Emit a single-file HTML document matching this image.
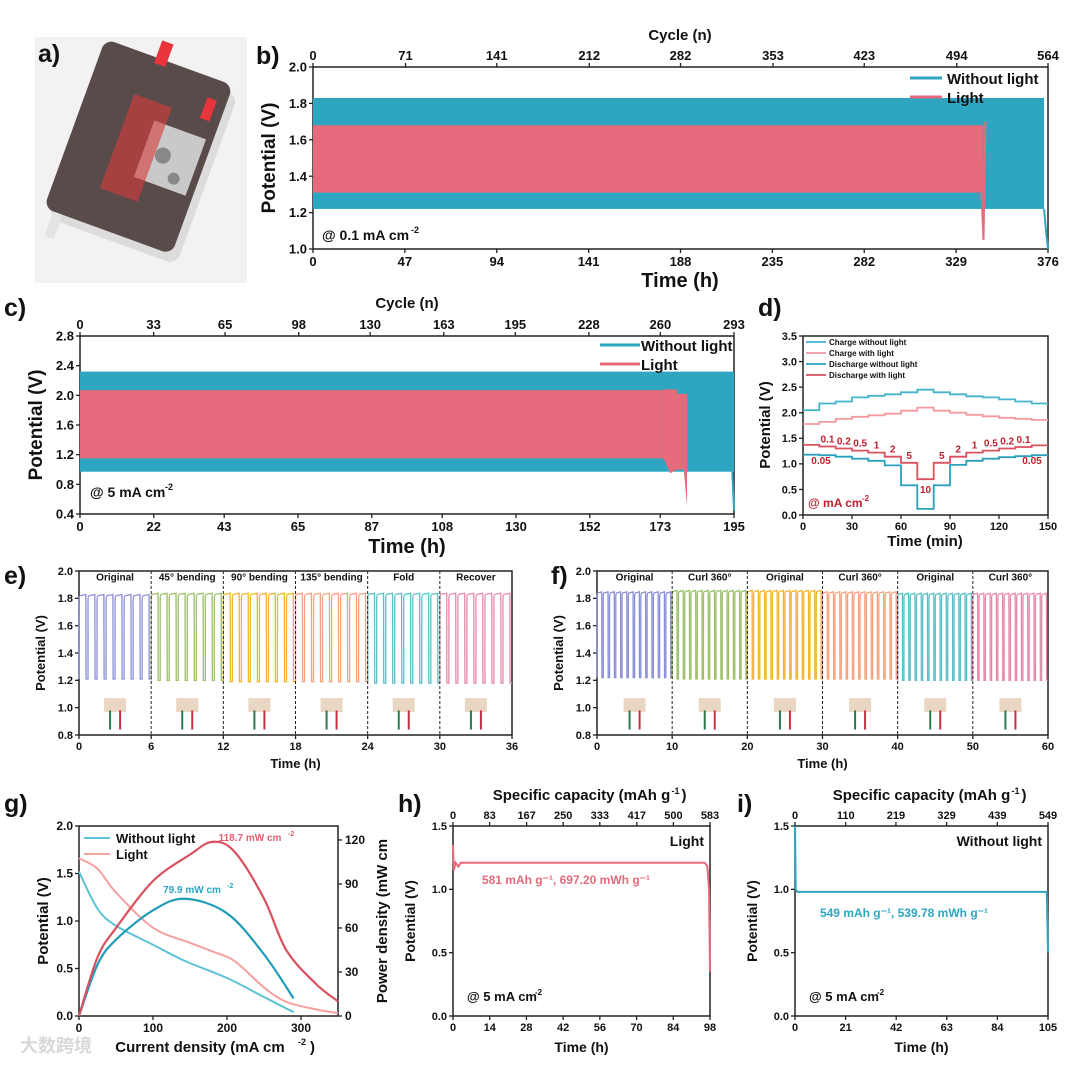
<!DOCTYPE html>
<html><head><meta charset="utf-8"><style>
html,body{margin:0;padding:0;background:#fff;}
svg{display:block;font-family:"Liberation Sans","Noto Sans CJK SC",sans-serif;font-weight:bold;}
</style></head><body>
<svg id="fig" width="1080" height="1073" viewBox="0 0 1080 1073" xmlns="http://www.w3.org/2000/svg">
<defs><clipPath id="clipA"><rect x="35" y="37" width="212" height="246"/></clipPath></defs>
<g clip-path="url(#clipA)">
<rect x="35" y="37" width="212" height="246" fill="#f2f2f2"/>
<g transform="rotate(20 140 160)">
<rect x="74" y="66" width="136" height="180" rx="10" fill="#dcdcdc"/>
<rect x="66" y="58" width="136" height="180" rx="10" fill="#5a4b4b"/>
<rect x="120" y="40" width="12" height="24" fill="#e8343d"/>
<rect x="182" y="78" width="10" height="22" fill="#e8343d"/>
<rect x="76" y="238" width="10" height="26" fill="#e4e4e4"/>
<rect x="140" y="118" width="55" height="60" fill="#c9c9c9"/>
<rect x="112" y="100" width="40" height="100" fill="#d83a3a" opacity="0.6"/>
<circle cx="160" cy="148" r="8" fill="#888"/><circle cx="178" cy="166" r="6" fill="#888"/>
</g>
</g>
<g id="plots"></g>
</svg>
<script>
// ---------- data ----------
const bTopTicks=[0,71,141,212,282,353,423,494,564];
const bBotTicks=[0,47,94,141,188,235,282,329,376];
const bTealBand=[1.22,1.83]; const bTealEnd=374;
const bPinkBand=[1.31,1.68]; const bPinkEnd=343;
const cTopTicks=[0,33,65,98,130,163,195,228,260,293];
const cBotTicks=[0,22,43,65,87,108,130,152,173,195];
const cTealBand=[0.97,2.32]; const cTealEnd=195;
const cPinkBand=[1.15,2.07]; const cPinkEnd=174;
const dSegTimes=[0,10,20,30,40,50,60,70,80,90,100,110,120,130,140,150];
const dCurrents=["0.05","0.1","0.2","0.5","1","2","5","10","5","2","1","0.5","0.2","0.1","0.05"];
const dChargeNo=[2.05,2.18,2.22,2.30,2.33,2.36,2.40,2.45,2.40,2.36,2.32,2.30,2.26,2.22,2.18];
const dChargeL=[1.78,1.82,1.88,1.92,1.95,1.98,2.04,2.10,2.04,2.00,1.96,1.93,1.90,1.88,1.86];
const dDisNo=[1.18,1.17,1.14,1.10,1.06,0.97,0.58,0.12,0.58,0.98,1.06,1.10,1.13,1.15,1.17];
const dDisL=[1.37,1.34,1.30,1.26,1.22,1.14,1.02,0.70,1.02,1.14,1.22,1.26,1.30,1.33,1.36];
const eLabels=["Original","45° bending","90° bending","135° bending","Fold","Recover"];
const eHigh=[1.82,1.83,1.83,1.83,1.83,1.83];
const eLow=[1.21,1.20,1.19,1.19,1.18,1.18];
const eCycles=[8,8,8,8,8,8];
const fLabels=["Original","Curl 360°","Original","Curl 360°","Original","Curl 360°"];
const fHigh=[1.84,1.85,1.85,1.84,1.83,1.83];
const fLow=[1.22,1.21,1.21,1.21,1.20,1.20];
const fCycles=[12,12,12,12,12,12];
const gCurDark=[0,25,50,100,143,200,250,290];
const gVDark=[1.52,1.13,0.95,0.75,0.58,0.40,0.20,0.04];
const gPDark=[0,35,52,72,79.9,70,42,12];
const gCurLight=[0,25,50,100,150,180,210,250,280,320,350];
const gVLight=[1.66,1.55,1.3,0.93,0.77,0.68,0.58,0.3,0.15,0.07,0.03];
const gPLight=[0,40,60,92,110,118.7,112,80,45,22,10];
const hTime=[0,0.3,1,2,3,5,20,50,80,96,97,97.6,98];
const hV=[1.35,1.15,1.21,1.18,1.21,1.21,1.21,1.21,1.21,1.21,1.18,1.0,0.35];
const hTop=[0,83,167,250,333,417,500,583];
const iTime=[0,0.3,1,5,30,60,90,104.5,105];
const iV=[1.5,1.0,0.98,0.98,0.98,0.98,0.98,0.98,0.5];
const iTop=[0,110,219,329,439,549];

// ---------- helpers ----------
const NS="http://www.w3.org/2000/svg";
const root=document.getElementById('plots');
function el(tag,attrs,parent,text){const e=document.createElementNS(NS,tag);for(const k in attrs)e.setAttribute(k,attrs[k]);if(text!==undefined)e.textContent=text;(parent||root).appendChild(e);return e;}
function lin(d0,d1,r0,r1){return v=>r0+(v-d0)/(d1-d0)*(r1-r0);}
function txt(p,x,y,s,size,opt){opt=opt||{};const t=el('text',{x:x,y:y,'font-size':size,'text-anchor':opt.anchor||'middle',fill:opt.fill||'#111'},p,s);if(opt.rot)t.setAttribute('transform','rotate(-90 '+x+' '+y+')');return t;}
function axes(g,c){
 const sx=lin(c.xmin,c.xmax,c.x0,c.x1), sy=lin(c.ymin,c.ymax,c.y1,c.y0);
 el('rect',{x:c.x0,y:c.y0,width:c.x1-c.x0,height:c.y1-c.y0,fill:'none',stroke:'#222','stroke-width':1.5},g);
 const fs=c.fs||12;
 c.xticks.forEach(v=>{const x=sx(v);el('line',{x1:x,x2:x,y1:c.y1,y2:c.y1+4,stroke:'#222','stroke-width':1.3},g);txt(g,x,c.y1+fs+4,String(v),fs);});
 c.yticks.forEach(v=>{const y=sy(v);el('line',{x1:c.x0,x2:c.x0-4,y1:y,y2:y,stroke:'#222','stroke-width':1.3},g);txt(g,c.x0-6,y+fs*0.35,c.yfmt?c.yfmt(v):String(v),fs,{anchor:'end'});});
 if(c.top){const st=lin(c.top[0],c.top[c.top.length-1],c.x0,c.x1);c.top.forEach(v=>{const x=st(v);el('line',{x1:x,x2:x,y1:c.y0,y2:c.y0-4,stroke:'#222','stroke-width':1.3},g);txt(g,x,c.y0-7,String(v),fs);});}
 return {sx,sy};
}
function poly(g,xs,ys,sx,sy,color,w){let d='';xs.forEach((x,i)=>{d+=(i?'L':'M')+sx(x).toFixed(1)+' '+sy(ys[i]).toFixed(1);});return el('path',{d:d,fill:'none',stroke:color,'stroke-width':w||2},g);}
function smooth(g,xs,ys,sx,sy,color,w){const P=xs.map((x,i)=>[sx(x),sy(ys[i])]);let d='M'+P[0][0]+' '+P[0][1];for(let i=0;i<P.length-1;i++){const p0=P[Math.max(0,i-1)],p1=P[i],p2=P[i+1],p3=P[Math.min(P.length-1,i+2)];d+=' C'+(p1[0]+(p2[0]-p0[0])/6)+' '+(p1[1]+(p2[1]-p0[1])/6)+' '+(p2[0]-(p3[0]-p1[0])/6)+' '+(p2[1]-(p3[1]-p1[1])/6)+' '+p2[0]+' '+p2[1];}return el('path',{d:d,fill:'none',stroke:color,'stroke-width':w||2},g);}
function letter(s,x,y){const t=txt(root,x,y,s,25,{anchor:'start'});}
const TEAL='#2ea6c2', PINK='#e56b7c';

letter('a)',38,62);letter('b)',256,64);letter('c)',4,316);letter('d)',758,316);
letter('e)',4,584);letter('f)',551,584);letter('g)',4,812);letter('h)',398,812);letter('i)',737,812);

// ---------- b ----------
(function(){const g=el('g',{});
 const a=axes(g,{x0:313,x1:1048,y0:67,y1:249,xmin:0,xmax:376,ymin:1.0,ymax:2.0,xticks:bBotTicks,yticks:[1.0,1.2,1.4,1.6,1.8,2.0],yfmt:v=>v.toFixed(1),top:bTopTicks,fs:13});
 const r1=el('rect',{x:a.sx(0),y:a.sy(bTealBand[1]),width:a.sx(bTealEnd)-a.sx(0),height:a.sy(bTealBand[0])-a.sy(bTealBand[1]),fill:TEAL},g);
 poly(g,[bTealEnd,375,376],[1.22,1.1,1.0],a.sx,a.sy,TEAL,2);
 const r2=el('rect',{x:a.sx(0),y:a.sy(bPinkBand[1]),width:a.sx(bPinkEnd)-a.sx(0),height:a.sy(bPinkBand[0])-a.sy(bPinkBand[1]),fill:PINK},g);
 poly(g,[342,343,344],[1.31,1.05,1.7],a.sx,a.sy,PINK,2);
 txt(g,680,40,'Cycle (n)',15);txt(g,680,287,'Time (h)',20);txt(g,275,158,'Potential (V)',19,{rot:1});
 txt(g,322,240,'@ 0.1 mA cm',14,{anchor:'start'});txt(g,411,233,'-2',9,{anchor:'start'});
 el('line',{x1:910,x2:942,y1:78,y2:78,stroke:TEAL,'stroke-width':3},g);txt(g,947,84,'Without light',15,{anchor:'start'});
 el('line',{x1:910,x2:942,y1:97,y2:97,stroke:PINK,'stroke-width':3},g);txt(g,947,103,'Light',15,{anchor:'start'});
})();
// ---------- c ----------
(function(){const g=el('g',{});
 const a=axes(g,{x0:80,x1:734,y0:336,y1:514,xmin:0,xmax:195,ymin:0.4,ymax:2.8,xticks:cBotTicks,yticks:[0.4,0.8,1.2,1.6,2.0,2.4,2.8],yfmt:v=>v.toFixed(1),top:cTopTicks,fs:13});
 const r1=el('rect',{x:a.sx(0),y:a.sy(cTealBand[1]),width:a.sx(cTealEnd)-a.sx(0),height:a.sy(cTealBand[0])-a.sy(cTealBand[1]),fill:TEAL},g);
 poly(g,[194.5,195],[0.97,0.45],a.sx,a.sy,TEAL,2);
 const r2=el('rect',{x:a.sx(0),y:a.sy(cPinkBand[1]),width:a.sx(cPinkEnd)-a.sx(0),height:a.sy(cPinkBand[0])-a.sy(cPinkBand[1]),fill:PINK},g);
 const end=[[174,2.08],[178,2.08],[178,2.02],[181,2.02],[181,0.5],[180,1.0],[178,1.0],[176,0.95],[174,1.15]];
 el('path',{d:'M'+end.map(p=>a.sx(p[0])+' '+a.sy(p[1])).join(' L')+' Z',fill:PINK},g);
 txt(g,407,308,'Cycle (n)',15);txt(g,407,553,'Time (h)',20);txt(g,42,425,'Potential (V)',19,{rot:1});
 txt(g,90,497,'@ 5 mA cm',14,{anchor:'start'});txt(g,165,490,'-2',9,{anchor:'start'});
 el('line',{x1:600,x2:640,y1:345,y2:345,stroke:TEAL,'stroke-width':3},g);txt(g,641,351,'Without light',15,{anchor:'start'});
 el('line',{x1:600,x2:640,y1:364,y2:364,stroke:PINK,'stroke-width':3},g);txt(g,641,370,'Light',15,{anchor:'start'});
})();
// ---------- d ----------
(function(){const g=el('g',{});
 const a=axes(g,{x0:803,x1:1048,y0:336,y1:515,xmin:0,xmax:150,ymin:0,ymax:3.5,xticks:[0,30,60,90,120,150],yticks:[0,0.5,1.0,1.5,2.0,2.5,3.0,3.5],yfmt:v=>v.toFixed(1),fs:11});
 function steps(vals,color){const xs=[],ys=[];vals.forEach((v,i)=>{xs.push(dSegTimes[i],dSegTimes[i+1]);ys.push(v,v);});poly(g,xs,ys,a.sx,a.sy,color,1.8);}
 steps(dChargeNo,'#45b5cc');steps(dChargeL,'#f29a9e');steps(dDisNo,'#2aa0bd');steps(dDisL,'#d9505f');
 dCurrents.forEach((c,i)=>{if(i==0||i==14)return;const x=a.sx((dSegTimes[i]+dSegTimes[i+1])/2);const y=a.sy(dDisL[i])-4;txt(g,x,i==7?a.sy(dDisL[i])+14:y,c,10,{fill:'#c0202e'});});
 txt(g,803+18,a.sy(1.0),'0.05',10,{fill:'#c0202e'});txt(g,1048-16,a.sy(1.0),'0.05',10,{fill:'#c0202e'});
 txt(g,808,507,'@ mA cm',12,{anchor:'start',fill:'#c0202e'});txt(g,862,501,'-2',8,{anchor:'start',fill:'#c0202e'});
 const L=[['Charge without light','#45b5cc'],['Charge with light','#f29a9e'],['Discharge without light','#2aa0bd'],['Discharge with light','#d9505f']];
 L.forEach((l,i)=>{const y=342+i*11;el('line',{x1:806,x2:826,y1:y,y2:y,stroke:l[1],'stroke-width':1.8},g);txt(g,829,y+3,l[0],8,{anchor:'start'});});
 txt(g,925,546,'Time (min)',15);txt(g,770,425,'Potential (V)',15,{rot:1});
})();
// ---------- e & f ----------
const PAL=['#8a8fd8','#9cbf68','#f2b42b','#f6a27c','#5cbfc7','#e889a6'];
function wavePanel(name,x0,x1,xmax,seg,labels,highs,lows,cycles,xticks){
 const g=el('g',{});
 const a=axes(g,{x0:x0,x1:x1,y0:571,y1:735,xmin:0,xmax:xmax,ymin:0.8,ymax:2.0,xticks:xticks,yticks:[0.8,1.0,1.2,1.4,1.6,1.8,2.0],yfmt:v=>v.toFixed(1),fs:11});
 labels.forEach((lab,s)=>{const t0=s*seg,n=cycles[s],p=seg/n;let d='';
  for(let k=0;k<n;k++){const t=t0+k*p;const xa=a.sx(t),xb=a.sx(t+p*0.14),xc=a.sx(t+p*0.76),xd=a.sx(t+p*0.78),xe=a.sx(t+p);
   const yh=a.sy(highs[s]),yl=a.sy(lows[s]);
   d+=(k?'L':'M')+xa+' '+yl+' L'+xa+' '+(yh+5)+' Q'+xa+' '+yh+' '+xb+' '+yh+' L'+xc+' '+(yh-1)+' L'+xd+' '+yl+' L'+xe+' '+yl;}
  const w=el('path',{d:d,fill:'none',stroke:PAL[s],'stroke-width':1.3},g);
  txt(g,a.sx(t0+seg/2),a.sy(1.93),lab,10);
  if(s>0)el('line',{x1:a.sx(t0),x2:a.sx(t0),y1:571,y2:735,stroke:'#222','stroke-width':1,'stroke-dasharray':'3,2'},g);
  const cx=a.sx(t0+seg/2);el('rect',{x:cx-11,y:a.sy(1.07),width:22,height:14,fill:'#ead7c3'},g);
  el('line',{x1:cx-5,x2:cx-5,y1:a.sy(0.98),y2:a.sy(0.84),stroke:'#2a7a4a','stroke-width':2},g);
  el('line',{x1:cx+5,x2:cx+5,y1:a.sy(0.98),y2:a.sy(0.84),stroke:'#c83040','stroke-width':2},g);
 });
 txt(g,(x0+x1)/2,768,'Time (h)',13);txt(g,x0-34,653,'Potential (V)',13,{rot:1});
}
wavePanel('panel-e-bending-chart',79,512,36,6,eLabels,eHigh,eLow,eCycles,[0,6,12,18,24,30,36]);
wavePanel('panel-f-curl-chart',597,1048,60,10,fLabels,fHigh,fLow,fCycles,[0,10,20,30,40,50,60]);
// ---------- g ----------
(function(){const g=el('g',{});
 const a=axes(g,{x0:79,x1:338,y0:826,y1:1016,xmin:0,xmax:350,ymin:0,ymax:2.0,xticks:[0,100,200,300],yticks:[0,0.5,1.0,1.5,2.0],yfmt:v=>v.toFixed(1),fs:12});
 const sp=lin(0,129.5,1016,826);
 [0,30,60,90,120].forEach(v=>{const y=sp(v);el('line',{x1:338,x2:342,y1:y,y2:y,stroke:'#222','stroke-width':1.3},g);txt(g,345,y+4,String(v),12,{anchor:'start'});});
 smooth(g,gCurDark,gVDark,a.sx,a.sy,'#5cc3d6',2);smooth(g,gCurLight,gVLight,a.sx,a.sy,'#f6a0a0',2);
 smooth(g,gCurDark,gPDark,a.sx,sp,'#1f9cb6',2.2);smooth(g,gCurLight,gPLight,a.sx,sp,'#d9505f',2.2);
 txt(g,250,841,'118.7 mW cm',10,{fill:'#e0606e'});txt(g,288,836,'-2',7,{fill:'#e0606e',anchor:'start'});
 txt(g,192,893,'79.9 mW cm',10,{fill:'#2aa6c2'});txt(g,227,888,'-2',7,{fill:'#2aa6c2',anchor:'start'});
 el('line',{x1:84,x2:110,y1:838,y2:838,stroke:'#5cc3d6','stroke-width':2},g);txt(g,116,843,'Without light',13,{anchor:'start'});
 el('line',{x1:84,x2:110,y1:854,y2:854,stroke:'#f6a0a0','stroke-width':2},g);txt(g,116,859,'Light',13,{anchor:'start'});
 txt(g,200,1052,'Current density (mA cm',15);txt(g,298,1045,'-2',9,{anchor:'start'});txt(g,310,1052,')',15,{anchor:'start'});
 txt(g,48,921,'Potential (V)',15,{rot:1});txt(g,387,921,'Power density (mW cm',15,{rot:1});
 txt(g,20,1052,'大数跨境',18,{anchor:'start',fill:'#d8d8d8'});
})();
// ---------- h & i ----------
function capPanel(name,x0,x1,xmax,xticks,top,ts,vs,color,label,cap,capY){
 const g=el('g',{});
 const a=axes(g,{x0:x0,x1:x1,y0:826,y1:1016,xmin:0,xmax:xmax,ymin:0,ymax:1.5,xticks:xticks,yticks:[0,0.5,1.0,1.5],yfmt:v=>v.toFixed(1),top:top,fs:11});
 const p=poly(g,ts,vs,a.sx,a.sy,color,2);
 txt(g,(x0+x1)/2,800,'Specific capacity (mAh g',15,{anchor:'middle'});
 txt(g,(x0+x1)/2+90,794,'-1',9,{anchor:'start'});txt(g,(x0+x1)/2+100,800,')',15,{anchor:'start'});
 txt(g,(x0+x1)/2,1052,'Time (h)',14);txt(g,x0-38,921,'Potential (V)',14,{rot:1});
 txt(g,x1-6,846,label,14,{anchor:'end'});
 txt(g,x1-60,capY,cap,12,{anchor:'end',fill:color});
 txt(g,x0+14,1001,'@ 5 mA cm',13,{anchor:'start'});txt(g,x0+82,995,'-2',8,{anchor:'start'});
}
capPanel('panel-h-light-capacity-chart',453,710,98,[0,14,28,42,56,70,84,98],hTop,hTime,hV,'#e56b7c','Light','581 mAh g⁻¹, 697.20 mWh g⁻¹',884);
capPanel('panel-i-dark-capacity-chart',795,1048,105,[0,21,42,63,84,105],iTop,iTime,iV,'#2ea6c2','Without light','549 mAh g⁻¹, 539.78 mWh g⁻¹',917);
</script>
</body></html>
